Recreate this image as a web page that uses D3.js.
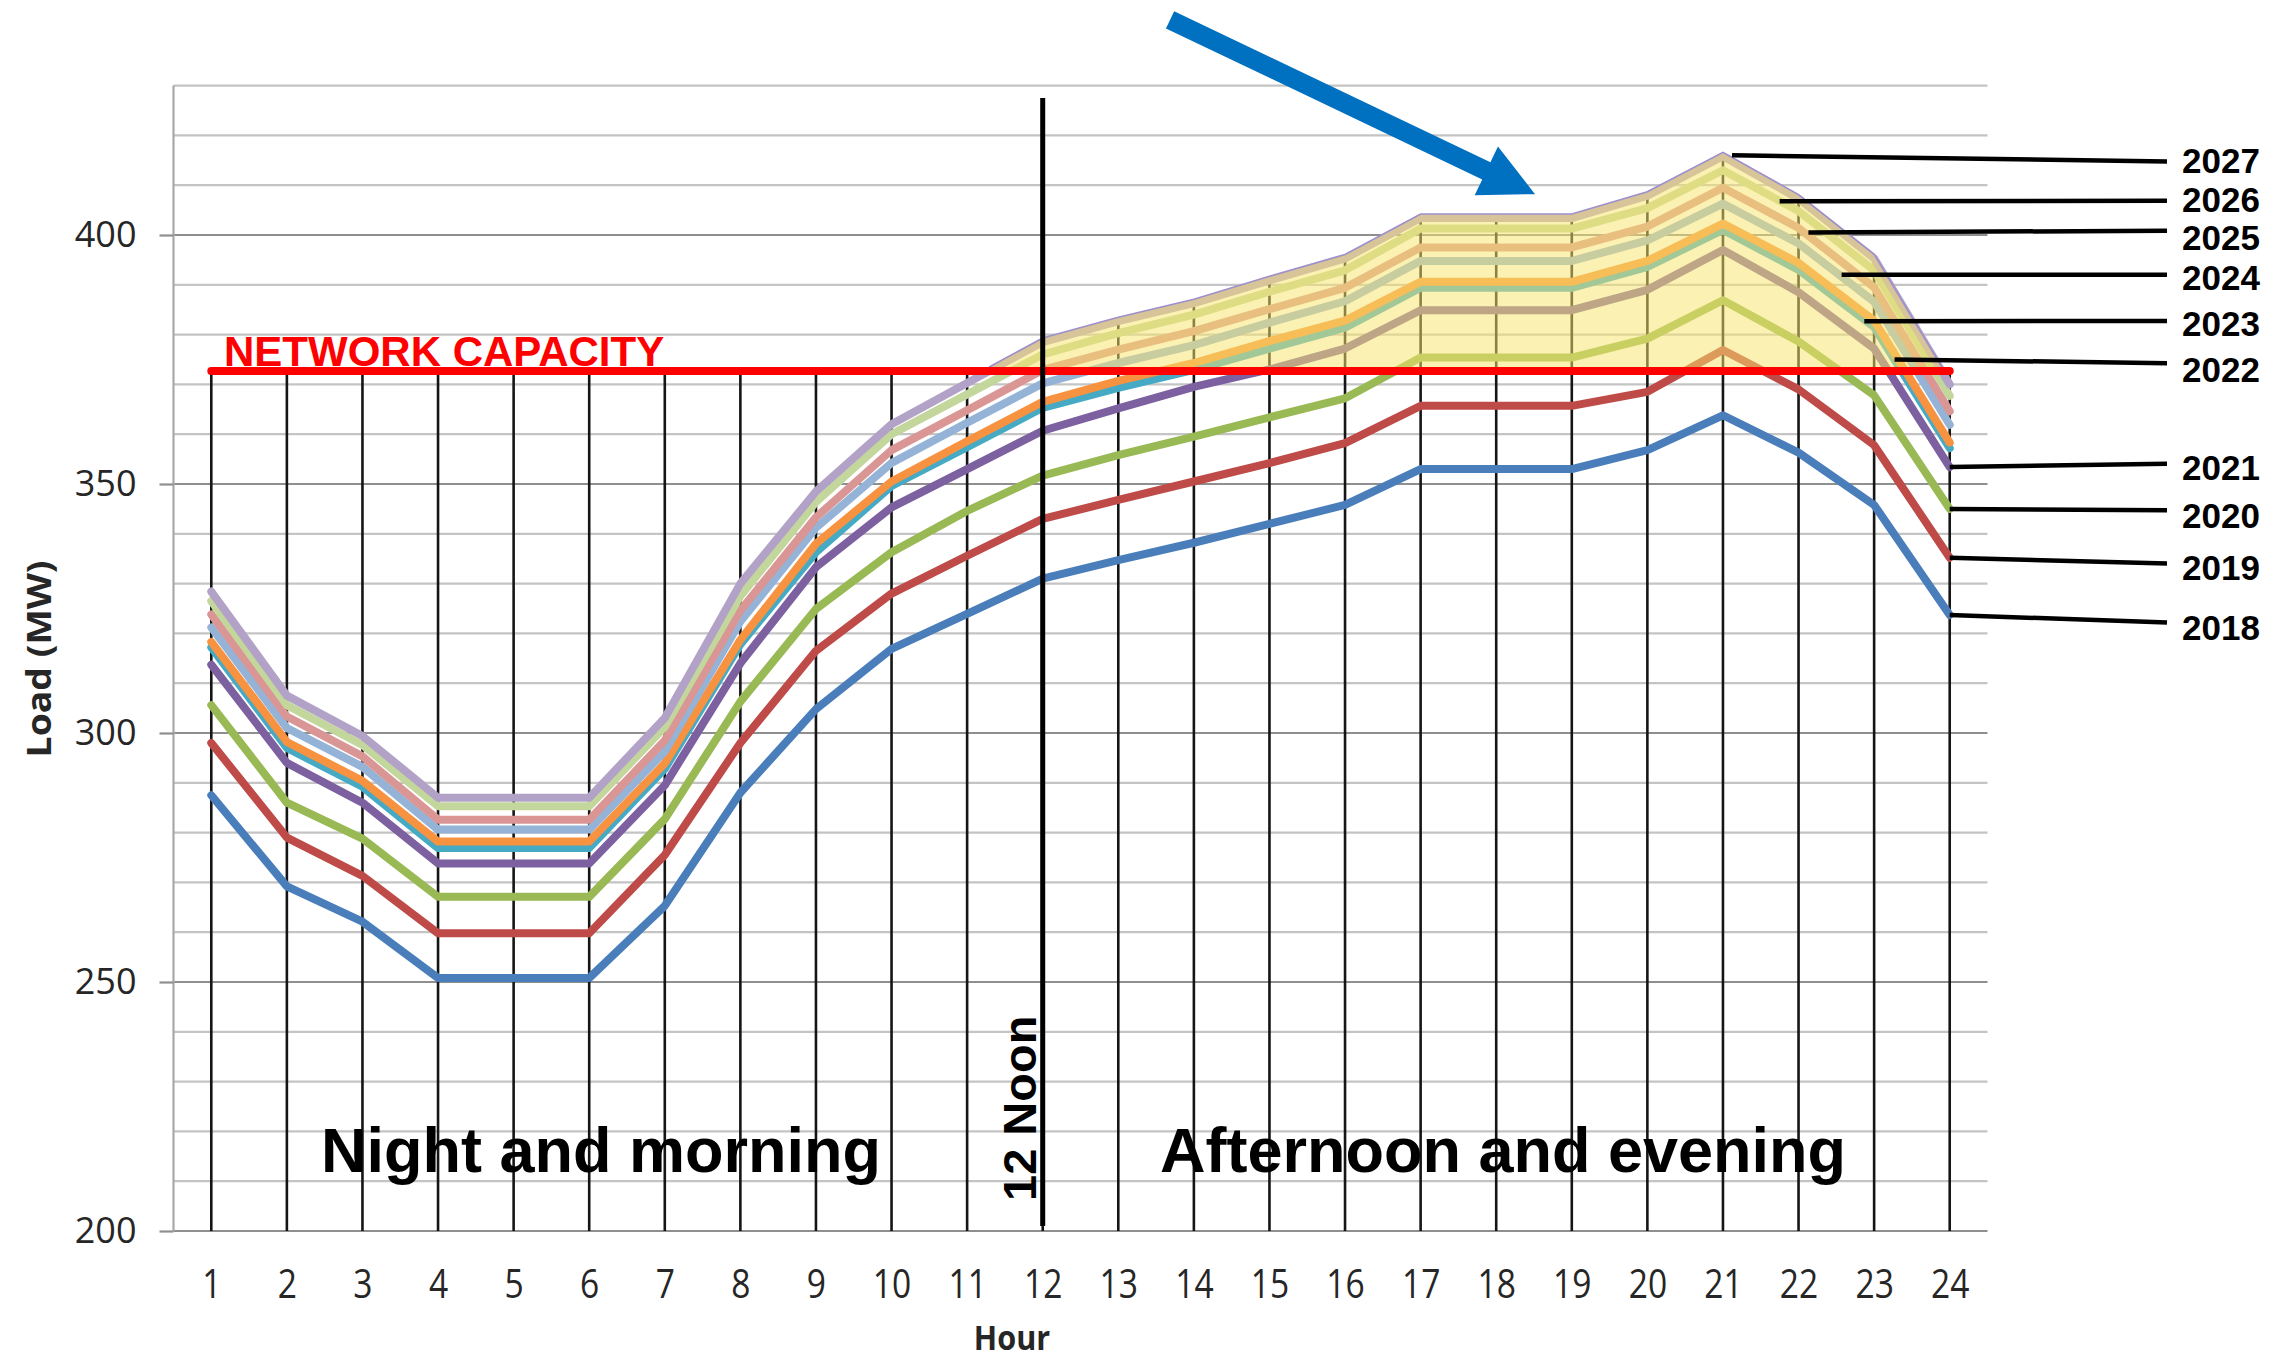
<!DOCTYPE html>
<html>
<head>
<meta charset="utf-8">
<script src="https://cdn.jsdelivr.net/npm/d3@7"></script>
<style>
  html, body { margin: 0; padding: 0; background: #fff; }
  svg { display: block; }
</style>
</head>
<body>
<svg id="chart" width="2288" height="1364"></svg>
<script>
// ---- data -------------------------------------------------------------
const hours = [1, 2, 3, 4, 5, 6, 7, 8, 9, 10, 11, 12, 13, 14, 15, 16, 17, 18, 19, 20, 21, 22, 23, 24];
const years = [2018, 2019, 2020, 2021, 2022, 2023, 2024, 2025, 2026, 2027];

// Hourly load (MW) forecast for each year
const load2018 = [287.5, 269.2, 262.1, 250.8, 250.8, 250.8, 265.3, 288.0, 304.8, 316.9, 323.9, 331.0, 334.7, 338.2, 342.0, 345.8, 353.0, 353.0, 353.0, 356.8, 363.8, 356.3, 345.8, 323.7];
const load2019 = [298.0, 279.0, 271.3, 259.8, 259.8, 259.8, 275.5, 298.0, 316.5, 328.0, 335.6, 343.0, 346.8, 350.5, 354.2, 358.2, 365.7, 365.7, 365.7, 368.5, 376.9, 369.0, 357.8, 335.2];
const load2020 = [305.6, 286.0, 278.8, 267.1, 267.1, 267.1, 282.7, 306.3, 324.9, 336.3, 344.6, 351.7, 355.8, 359.5, 363.4, 367.2, 375.4, 375.4, 375.4, 379.2, 386.9, 378.6, 367.8, 345.0];
const load2021 = [313.7, 294.0, 286.0, 273.8, 273.8, 273.8, 289.5, 314.0, 333.3, 345.3, 353.0, 360.7, 365.2, 369.5, 373.0, 377.2, 384.9, 384.9, 384.9, 389.0, 397.0, 388.5, 377.2, 353.4];
const load2022 = [317.2, 297.0, 289.2, 276.9, 276.9, 276.9, 292.8, 317.8, 336.3, 349.6, 357.4, 365.3, 369.3, 372.9, 377.2, 381.4, 389.4, 389.4, 389.4, 393.6, 401.0, 393.0, 381.5, 357.2];
const load2023 = [318.3, 298.2, 290.4, 278.2, 278.2, 278.2, 293.9, 318.7, 338.0, 350.5, 358.6, 366.5, 370.7, 374.3, 378.7, 382.8, 390.6, 390.6, 390.6, 394.8, 402.3, 394.4, 382.8, 358.3];
const load2024 = [321.2, 301.0, 293.2, 280.6, 280.6, 280.6, 296.3, 322.4, 341.2, 354.2, 362.3, 370.2, 374.3, 377.9, 382.4, 386.7, 394.8, 394.8, 394.8, 398.9, 406.3, 398.3, 386.6, 361.9];
const load2025 = [323.8, 303.3, 295.3, 282.6, 282.6, 282.6, 298.5, 324.6, 343.3, 356.8, 364.8, 372.9, 377.0, 380.7, 385.1, 389.4, 397.5, 397.5, 397.5, 401.7, 409.5, 401.4, 389.5, 364.6];
const load2026 = [326.5, 305.6, 297.6, 285.3, 285.3, 285.3, 301.2, 327.5, 346.4, 360.0, 368.0, 376.0, 380.3, 384.0, 388.6, 392.9, 401.3, 401.3, 401.3, 405.4, 413.0, 404.8, 392.9, 367.7];
const load2027 = [328.4, 307.5, 299.4, 287.0, 287.0, 287.0, 303.0, 330.0, 348.5, 362.0, 370.3, 378.5, 382.7, 386.3, 390.9, 395.3, 403.4, 403.4, 403.4, 407.9, 415.8, 407.3, 395.3, 370.0];

const networkCapacity = 372.7;   // MW

const yMajorTicks = [200, 250, 300, 350, 400];
const yGridTicks  = [200, 210, 220, 230, 240, 250, 260, 270, 280, 290, 300, 310, 320, 330, 340, 350, 360, 370, 380, 390, 400, 410, 420, 430];

const seriesColors = ["#4A7EBB", "#BE4B48", "#98B954", "#7D60A0", "#46AAC5", "#F69240", "#95B3D7", "#D99694", "#C3D69B", "#B3A2C7"];

const seriesValues = [load2018, load2019, load2020, load2021, load2022, load2023, load2024, load2025, load2026, load2027];
const series = years.map((yr, i) => ({ year: yr, values: seriesValues[i], color: seriesColors[i] }));

// ---- layout -----------------------------------------------------------
const plot = { left: 173.5, right: 1987.5, top: 85.6, bottom: 1231 };
const x = d3.scaleLinear().domain([0.5, 24.5]).range([plot.left, plot.right]);
const y = d3.scaleLinear().domain([200, 430]).range([plot.bottom, plot.top]);

const svg = d3.select("#chart");
svg.append("rect").attr("width", 2288).attr("height", 1364).attr("fill", "#fff");

// ---- grid -------------------------------------------------------------
const grid = svg.append("g");
grid.selectAll("line.minor")
  .data(yGridTicks.filter(v => !yMajorTicks.includes(v)))
  .join("line")
  .attr("x1", plot.left).attr("x2", plot.right)
  .attr("y1", d => y(d)).attr("y2", d => y(d))
  .attr("stroke", "#c4c4c4").attr("stroke-width", 2.2);
grid.selectAll("line.major")
  .data(yMajorTicks)
  .join("line")
  .attr("x1", plot.left).attr("x2", plot.right)
  .attr("y1", d => y(d)).attr("y2", d => y(d))
  .attr("stroke", "#8f8f8f").attr("stroke-width", 2.2);
grid.append("line")
  .attr("x1", plot.left).attr("x2", plot.left)
  .attr("y1", plot.top).attr("y2", plot.bottom)
  .attr("stroke", "#a8a8a8").attr("stroke-width", 2.2);

// ---- axes -------------------------------------------------------------
const yAxis = svg.append("g")
  .attr("transform", `translate(${plot.left},0)`)
  .call(d3.axisLeft(y).tickValues(yMajorTicks).tickSize(14).tickPadding(23).tickFormat(d3.format("d")));
yAxis.select(".domain").remove();
yAxis.selectAll(".tick line").attr("stroke", "#8f8f8f").attr("stroke-width", 2.2);
yAxis.selectAll(".tick text")
  .attr("font-family", "'Open Sans', sans-serif")
  .attr("font-size", 36).attr("fill", "#262626");

const xAxis = svg.append("g")
  .attr("transform", `translate(0,${plot.bottom})`)
  .call(d3.axisBottom(x).tickValues(hours).tickSize(0).tickFormat(d3.format("d")));
xAxis.select(".domain").remove();
xAxis.selectAll(".tick text")
  .attr("font-family", "'Open Sans', sans-serif")
  .attr("font-size", 40).attr("fill", "#262626")
  .attr("y", 67).attr("dy", 0)
  .attr("transform", "scale(0.84,1)");

svg.append("text")
  .attr("transform", `translate(1012,1350) scale(0.9,1)`)
  .attr("text-anchor", "middle")
  .attr("font-family", "'Open Sans', sans-serif").attr("font-weight", 700)
  .attr("font-size", 34).attr("fill", "#262626")
  .text("Hour");

svg.append("text")
  .attr("transform", `translate(51,659) rotate(-90) scale(1.1,1)`)
  .attr("text-anchor", "middle")
  .attr("font-family", "'Open Sans', sans-serif").attr("font-weight", 700)
  .attr("font-size", 34).attr("fill", "#262626")
  .text("Load (MW)");

// ---- drop lines (from highest value at each hour down to the axis) -----
const topAt = hours.map((h, i) => Math.max(networkCapacity, d3.max(series, s => s.values[i])));
svg.append("g").selectAll("line")
  .data(hours)
  .join("line")
  .attr("x1", d => x(d)).attr("x2", d => x(d))
  .attr("y1", y(200)).attr("y2", (d, i) => y(topAt[i]))
  .attr("stroke", "#151515").attr("stroke-width", 2.6);

// ---- load lines -------------------------------------------------------
const line = d3.line().x((d, i) => x(hours[i])).y(d => y(d));
svg.append("g").selectAll("path")
  .data(series)
  .join("path")
  .attr("d", s => line(s.values))
  .attr("fill", "none")
  .attr("stroke", s => s.color)
  .attr("stroke-width", 8)
  .attr("stroke-linejoin", "round")
  .attr("stroke-linecap", "round");

// ---- overload band: area of the highest forecast above capacity --------
const topSeries = series[series.length - 1].values;
const regions = [];
let cur = null;
for (let i = 0; i < hours.length; i++) {
  const v = topSeries[i];
  if (i > 0) {
    const pv = topSeries[i - 1];
    if ((pv - networkCapacity) * (v - networkCapacity) < 0) {
      const t = (networkCapacity - pv) / (v - pv);
      const hx = hours[i - 1] + t * (hours[i] - hours[i - 1]);
      if (cur) { cur.push([hx, networkCapacity]); regions.push(cur); cur = null; }
      else { cur = [[hx, networkCapacity]]; }
    }
  }
  if (v > networkCapacity) { if (!cur) cur = []; cur.push([hours[i], v]); }
}
if (cur) regions.push(cur);

const halfStroke = 4;
const band = d3.area()
  .x(d => x(d[0]))
  .y0(y(networkCapacity))
  .y1(d => Math.min(y(d[1]) - halfStroke, y(networkCapacity)));
const bandEdge = d3.line()
  .x(d => x(d[0]))
  .y(d => Math.min(y(d[1]) - halfStroke, y(networkCapacity)));

const bandG = svg.append("g");
regions.forEach(r => {
  bandG.append("path").attr("d", band(r)).attr("fill", "rgba(247,228,110,0.52)");
  bandG.append("path").attr("d", bandEdge(r)).attr("fill", "none")
    .attr("stroke", "#9d90cc").attr("stroke-width", 1.6);
});

// ---- network capacity -------------------------------------------------
svg.append("line")
  .attr("x1", x(hours[0])).attr("x2", x(hours[hours.length - 1]))
  .attr("y1", y(networkCapacity)).attr("y2", y(networkCapacity))
  .attr("stroke", "#ff0000").attr("stroke-width", 8).attr("stroke-linecap", "round");

svg.append("text")
  .attr("x", 224).attr("y", y(networkCapacity) - 5)
  .attr("font-family", "'Liberation Sans', Arial, sans-serif").attr("font-weight", 700)
  .attr("font-size", 42).attr("fill", "#ff0000")
  .text("NETWORK CAPACITY");

// ---- noon divider and period labels ----------------------------------
svg.append("line")
  .attr("x1", x(12)).attr("x2", x(12))
  .attr("y1", y(201)).attr("y2", y(427.5))
  .attr("stroke", "#000").attr("stroke-width", 5);

svg.append("text")
  .attr("transform", `translate(${x(12) - 7},1201) rotate(-90)`)
  .attr("font-family", "'Liberation Sans', Arial, sans-serif").attr("font-weight", 700)
  .attr("font-size", 47).attr("fill", "#000")
  .text("12 Noon");

const periodFont = { family: "'Liberation Sans', Arial, sans-serif", size: 63 };
svg.append("text")
  .attr("x", 321).attr("y", 1172)
  .attr("font-family", periodFont.family).attr("font-weight", 700)
  .attr("font-size", periodFont.size).attr("fill", "#000")
  .text("Night and morning");
svg.append("text")
  .attr("x", 1160).attr("y", 1172)
  .attr("font-family", periodFont.family).attr("font-weight", 700)
  .attr("font-size", periodFont.size).attr("fill", "#000")
  .text("Afternoon and evening");

// ---- arrow pointing at the overload band ------------------------------
(function drawArrow() {
  const tail = [x(13.685), y(443.2)];
  const tip  = [x(18.514), y(408.2)];
  const dx = tip[0] - tail[0], dy = tip[1] - tail[1];
  const len = Math.hypot(dx, dy);
  const u = [dx / len, dy / len], n = [-u[1], u[0]];
  const headLen = 54, headHalf = 27, shaftHalf = 9.5;
  const b = [tip[0] - u[0] * headLen, tip[1] - u[1] * headLen];
  const p = (o, k) => [o[0] + n[0] * k, o[1] + n[1] * k];
  const pts = [p(tail, shaftHalf), p(b, shaftHalf), p(b, headHalf), tip, p(b, -headHalf), p(b, -shaftHalf), p(tail, -shaftHalf)];
  svg.append("path")
    .attr("d", "M" + pts.map(q => q.join(",")).join("L") + "Z")
    .attr("fill", "#0070C0");
})();

// ---- year labels with leader lines ------------------------------------
const yearLabelLayout = [
  { year: 2027, from: [21.12, 416.0], endY: 161.5, textY: 172.6 },
  { year: 2026, from: [21.75, 406.8], endY: 200.8, textY: 211.5 },
  { year: 2025, from: [22.13, 400.5], endY: 230.7, textY: 249.5 },
  { year: 2024, from: [22.57, 392.0], endY: 274.7, textY: 290.0 },
  { year: 2023, from: [22.87, 382.7], endY: 321.0, textY: 335.7 },
  { year: 2022, from: [23.27, 375.0], endY: 363.2, textY: 381.9 },
  { year: 2021, from: null, endY: 463.8, textY: 480.3 },
  { year: 2020, from: null, endY: 510.2, textY: 527.7 },
  { year: 2019, from: null, endY: 563.6, textY: 580.4 },
  { year: 2018, from: null, endY: 622.6, textY: 640.2 }
];
const labelG = svg.append("g");
yearLabelLayout.forEach(l => {
  const s = series.find(d => d.year === l.year);
  const start = l.from ? [x(l.from[0]), y(l.from[1])]
                       : [x(hours[hours.length - 1]), y(s.values[s.values.length - 1])];
  labelG.append("line")
    .attr("x1", start[0]).attr("y1", start[1])
    .attr("x2", 2167).attr("y2", l.endY)
    .attr("stroke", "#000").attr("stroke-width", 4.5);
  labelG.append("text")
    .attr("x", 2182).attr("y", l.textY)
    .attr("font-family", "'Liberation Sans', Arial, sans-serif").attr("font-weight", 700)
    .attr("font-size", 35).attr("fill", "#000")
    .text(l.year);
});
</script>
</body>
</html>
